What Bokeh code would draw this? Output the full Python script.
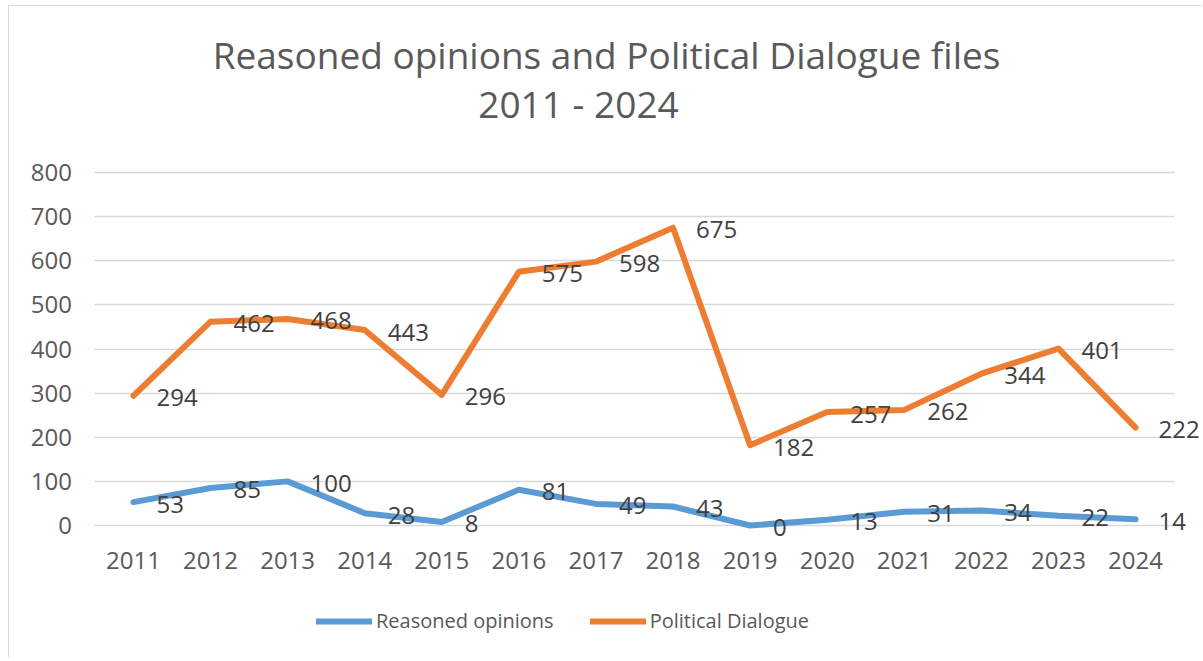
from bokeh.plotting import figure
from bokeh.models import (Range1d, FixedTicker, Legend, LegendItem, Label,
                          LabelSet, ColumnDataSource)
from bokeh.embed import file_html
from bokeh.resources import INLINE
from bokeh.core.properties import value

# ---------------- data ----------------
years = ["2011", "2012", "2013", "2014", "2015", "2016", "2017",
         "2018", "2019", "2020", "2021", "2022", "2023", "2024"]
reasoned_opinions = [53, 85, 100, 28, 8, 81, 49, 43, 0, 13, 31, 34, 22, 14]
political_dialogue = [294, 462, 468, 443, 296, 575, 598, 675, 182, 257, 262, 344, 401, 222]
y_ticks = [0, 100, 200, 300, 400, 500, 600, 700, 800]
series_names = ["Reasoned opinions", "Political Dialogue"]
title_line1 = "Reasoned opinions and Political Dialogue files"
title_line2 = "2011 - 2024"

# ---------------- style ----------------
FONT = "Open Sans"
BLUE = "#5B9BD5"
ORANGE = "#ED7D31"
AXIS_TXT = "#595959"
LBL_TXT = "#404040"
GRID = "#D9D9D9"

W, H = 1194, 652
xpos = list(range(len(years)))          # category slots

# the plotting frame fills the whole canvas; axes are pinned inside it
p = figure(width=W, height=H, x_range=Range1d(-1.608, 13.882),
           y_range=Range1d(-301.4, 1176.2), output_backend="svg",
           toolbar_location=None, title_location=None,
           min_border=0, min_border_left=0, min_border_right=0,
           min_border_top=0, min_border_bottom=0)
p.styles = {"margin-left": "8px", "margin-top": "5px",
            "border-top": "1px solid #D9D9D9", "border-left": "1px solid #D9D9D9"}
p.outline_line_color = None
p.background_fill_color = "white"
p.border_fill_color = "white"

p.xgrid.grid_line_color = None
p.ygrid.grid_line_color = GRID
p.ygrid.grid_line_width = 1.3
try:
    p.ygrid.cross_bounds = (-0.5, len(years) - 0.5)
except Exception:
    pass

p.yaxis.ticker = FixedTicker(ticks=y_ticks)
p.xaxis.ticker = FixedTicker(ticks=xpos)
p.xaxis.major_label_overrides = {i: y for i, y in zip(xpos, years)}
p.xaxis.fixed_location = 0
p.yaxis.fixed_location = -0.5

for ax in (p.xaxis[0], p.yaxis[0]):
    ax.axis_line_color = None
    ax.major_tick_line_color = None
    ax.minor_tick_line_color = None
    ax.major_tick_out = 0
    ax.major_tick_in = 0
    ax.minor_tick_out = 0
    ax.major_label_text_font = FONT
    ax.major_label_text_font_size = "24px"
    ax.major_label_text_color = AXIS_TXT
p.yaxis.major_label_standoff = 23
p.xaxis.major_label_standoff = 26

src = ColumnDataSource(dict(
    x=xpos, ro=reasoned_opinions, pd=political_dialogue,
    ro_txt=[str(v) for v in reasoned_opinions],
    pd_txt=[str(v) for v in political_dialogue]))

r_ro = p.line("x", "ro", source=src, line_color=BLUE, line_width=6,
              line_join="round", line_cap="round")
r_pd = p.line("x", "pd", source=src, line_color=ORANGE, line_width=6,
              line_join="round", line_cap="round")

for col in ("ro", "pd"):
    ls = LabelSet(x="x", y=col, text=col + "_txt", source=src,
                  x_offset=23, y_offset=-2, text_align="left",
                  text_baseline="middle", text_font=value(FONT),
                  text_font_size="24px", text_color=LBL_TXT)
    p.add_layout(ls)

legend = Legend(items=[LegendItem(label=series_names[0], renderers=[r_ro]),
                       LegendItem(label=series_names[1], renderers=[r_pd])],
                orientation="horizontal", location=(307, 24),
                label_text_font=FONT, label_text_font_size="20px",
                label_text_color=AXIS_TXT, glyph_width=56, glyph_height=20,
                label_standoff=4, spacing=36, border_line_color=None,
                background_fill_alpha=0, padding=4, margin=0)
p.add_layout(legend, "center")

t1 = Label(x=597, y=604, x_units="screen", y_units="screen", text=title_line1,
           text_align="center", text_baseline="alphabetic", text_font=FONT,
           text_font_size="37px", text_color=AXIS_TXT)
t2 = Label(x=569, y=555, x_units="screen", y_units="screen", text=title_line2,
           text_align="center", text_baseline="alphabetic", text_font=FONT,
           text_font_size="37px", text_color=AXIS_TXT)
p.add_layout(t1)
p.add_layout(t2)

open("out.html", "w").write(file_html(p, INLINE))
